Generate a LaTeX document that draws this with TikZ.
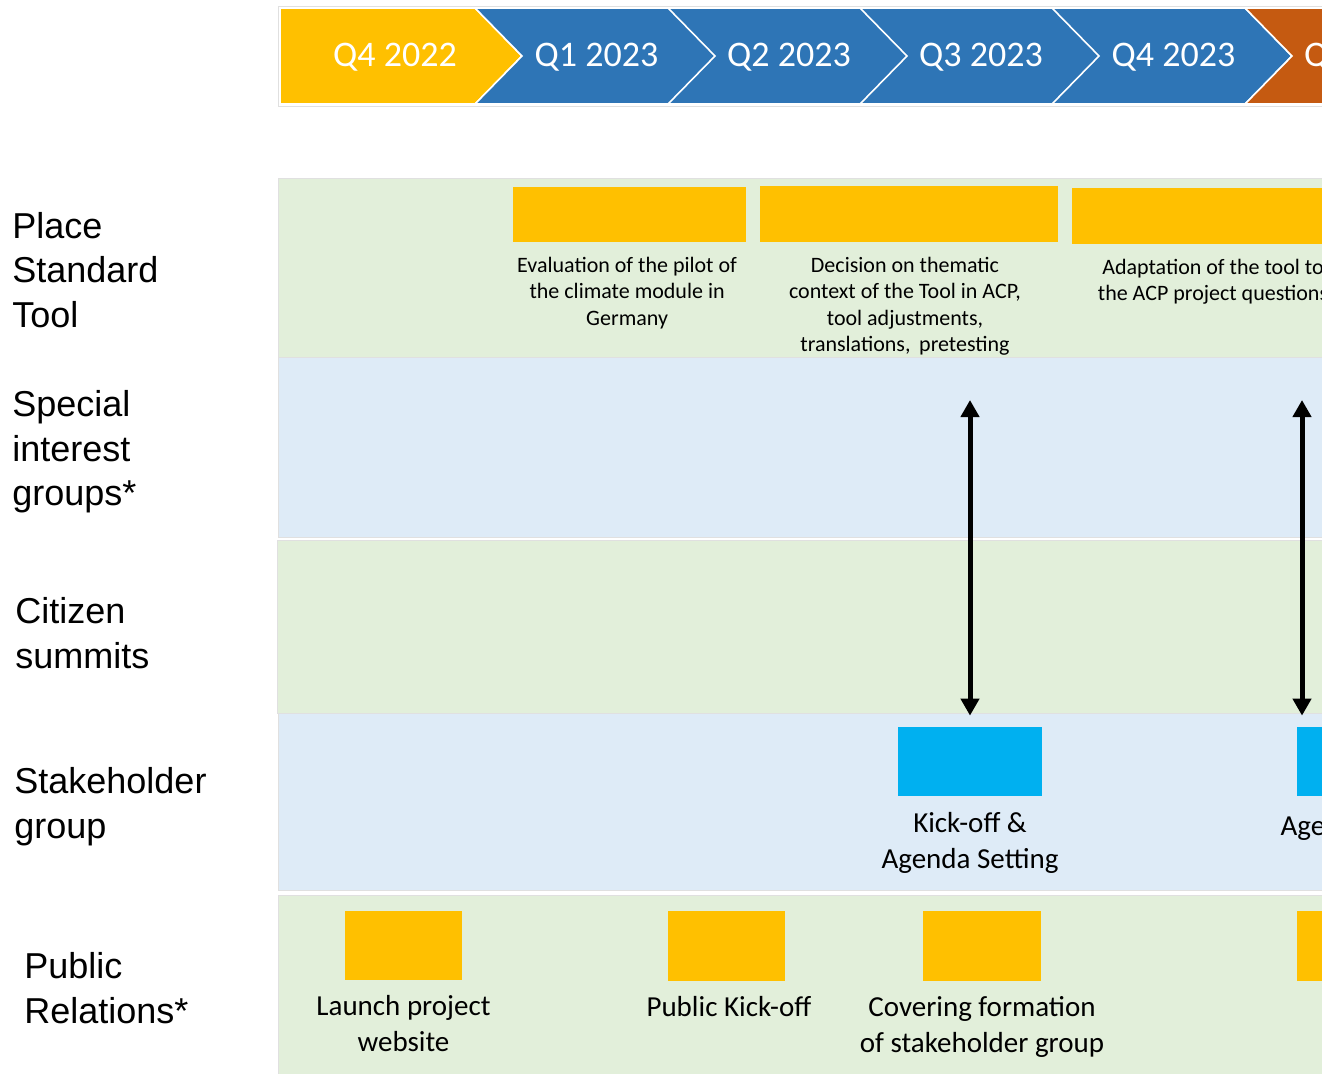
\documentclass[tikz,border=0pt]{standalone}
\usepackage{fontspec}
\setmainfont{Carlito}
\newfontfamily\arialf{Liberation Sans}
\usetikzlibrary{positioning,arrows.meta}
\definecolor{qyellow}{HTML}{FFC000}
\definecolor{qblue}{HTML}{2E75B6}
\definecolor{qorange}{HTML}{C55A11}
\definecolor{qcyan}{HTML}{00B0F0}
\definecolor{bgreen}{HTML}{E2EFDA}
\definecolor{bblue}{HTML}{DEEBF7}
\begin{document}
\begin{tikzpicture}[x=0.5pt,y=-0.5pt,
    band/.style={draw=black!12,line width=0.4pt},
    chev/.style={draw=white,line width=0.8pt},
    qlbl/.style={anchor=base,text=white,inner sep=0pt,font=\fontsize{18}{22}\selectfont},
    rowlbl/.style={anchor=north west,inner sep=0pt,align=left,font=\arialf\fontsize{18}{22.25}\selectfont},
    ybox/.style={fill=qyellow,inner sep=0pt},
    cbox/.style={fill=qcyan,inner sep=0pt,minimum width=72pt,minimum height=34.5pt},
    sml/.style={inner sep=0pt,align=center,font=\fontsize{11}{13.25}\selectfont},
    lbl/.style={inner sep=0pt,align=center,font=\fontsize{14.5}{18}\selectfont},
    dbl/.style={{Triangle[width=9pt,length=8.5pt]}-{Triangle[width=9pt,length=8.5pt]},line width=2.5pt}]
\useasboundingbox (0,0) rectangle (1322,1073);
\clip (0,0) rectangle (1322,1073);
\draw[black!12] (278,6) rectangle (1330,106);
\filldraw[chev,fill=qyellow] (280,8) -- (475,8) -- (522,56) -- (475,104) -- (280,104) -- cycle;
\filldraw[chev,fill=qblue] (475,8) -- (668,8) -- (715,56) -- (668,104) -- (475,104) -- (522,56) -- cycle
    (668,8) -- (860,8) -- (907,56) -- (860,104) -- (668,104) -- (715,56) -- cycle
    (860,8) -- (1052,8) -- (1099,56) -- (1052,104) -- (860,104) -- (907,56) -- cycle
    (1052,8) -- (1245,8) -- (1292,56) -- (1245,104) -- (1052,104) -- (1099,56) -- cycle;
\filldraw[chev,fill=qorange] (1245,8) -- (1437,8) -- (1484,56) -- (1437,104) -- (1245,104) -- (1292,56) -- cycle;
\node[qlbl] (q422) at (395,66) {Q4 2022};
\node[qlbl] (q123) at (596.5,66) {Q1 2023};
\node[qlbl] (q223) at (789,66) {Q2 2023};
\node[qlbl] (q323) at (981,66) {Q3 2023};
\node[qlbl] (q423) at (1173.5,66) {Q4 2023};
\node[qlbl] (q124) at (1366,66) {Q1 2024};
\filldraw[band,fill=bgreen] (278,178) rectangle (1330,357);
\filldraw[band,fill=bblue] (278,357) rectangle (1330,537);
\filldraw[band,fill=bgreen] (277,540) rectangle (1330,713);
\filldraw[band,fill=bblue] (278,713) rectangle (1330,890);
\filldraw[band,fill=bgreen] (278,895) rectangle (1330,1080);
\node[rowlbl] (lpst) at (12,212) {Place\\Standard\\Tool};
\node[rowlbl] (lsig) at (12,390) {Special\\interest\\groups*};
\node[rowlbl] (lcit) at (15,597) {Citizen\\summits};
\node[rowlbl] (lstk) at (14,767) {Stakeholder\\group};
\node[rowlbl] (lpr) at (24,952) {Public\\Relations*};
\node[ybox,minimum width=116.5pt,minimum height=27.5pt] (pst1) at (629.5,214.5) {};
\node[ybox,minimum width=149pt,minimum height=28pt] (pst2) at (909,214) {};
\node[ybox,minimum width=139pt,minimum height=28pt] (pst3) at (1211,216) {};
\node[sml,below=7pt of pst1,xshift=-1.2pt] (pst1t) {Evaluation of the pilot of\\the climate module in\\Germany};
\node[sml,below=7pt of pst2,xshift=-2pt] (pst2t) {Decision on thematic\\context of the Tool in ACP,\\tool adjustments,\\translations,\, pretesting};
\node[sml,below=7pt of pst3,xshift=1pt] (pst3t) {Adaptation of the tool to\\the ACP project questions};
\node[cbox] (stk1) at (970,761.5) {};
\node[cbox] (stk2) at (1369,761.5) {};
\node[lbl,below=8pt of stk1] (stk1t) {Kick-off \&\\Agenda Setting};
\node[lbl,below=9.5pt of stk2] (stk2t) {Agenda Setting};
\node[ybox,minimum width=58.5pt,minimum height=34.5pt] (pr1) at (403.5,945.5) {};
\node[ybox,minimum width=58.5pt,minimum height=35pt] (pr2) at (726.5,946) {};
\node[ybox,minimum width=59pt,minimum height=35pt] (pr3) at (982,946) {};
\node[ybox,minimum width=58.5pt,minimum height=35pt] (pr4) at (1355.5,946) {};
\node[lbl,below=7.5pt of pr1] (pr1t) {Launch project\\website};
\node[lbl,below=7.5pt of pr2,xshift=1.2pt] (pr2t) {Public Kick-off};
\node[lbl,below=7.5pt of pr3] (pr3t) {Covering formation\\of stakeholder group};
\coordinate (sig1) at (970,400);
\coordinate (sig2) at (1302,400);
\draw[dbl,shorten >=5.5pt] (sig1) -- (sig1 |- stk1.north);
\draw[dbl,shorten >=5.5pt] (sig2) -- (sig2 |- stk2.north);
\end{tikzpicture}
\end{document}
